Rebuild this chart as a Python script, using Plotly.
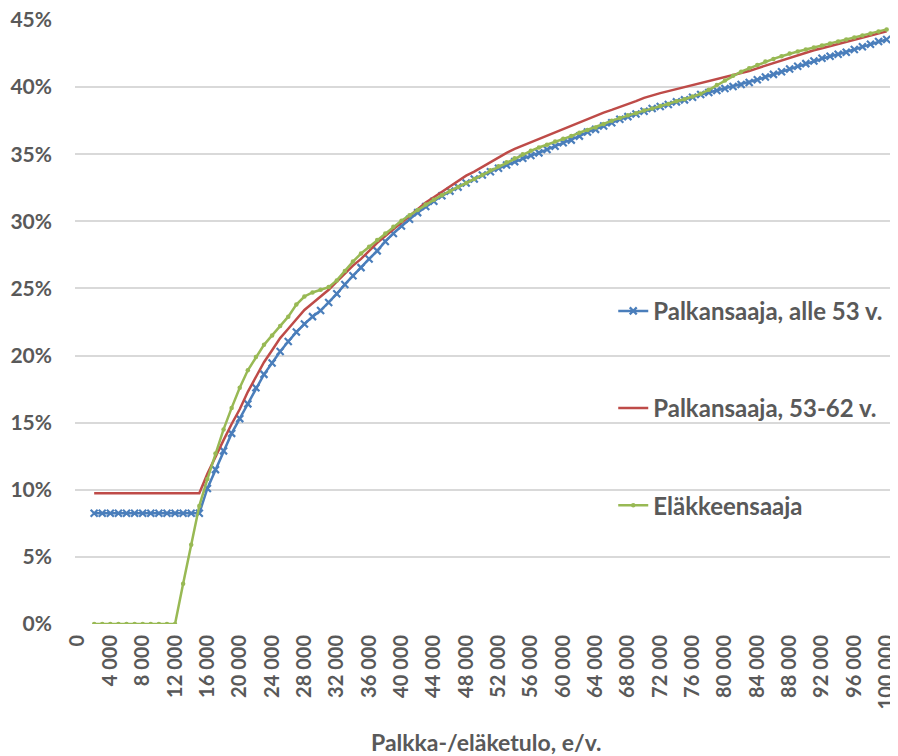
import plotly.graph_objects as go

# Income, euros per year
income = list(range(2000, 100001, 1000))

# Series values (%)
palkansaaja_alle53 = [
    8.25, 8.25, 8.25, 8.25, 8.25, 8.25, 8.25, 8.25, 8.25, 8.25, 8.25, 8.25, 8.25, 8.25,  # 2k-15k
    10.1, 11.5, 12.9, 14.2, 15.3, 16.4, 17.6, 18.6, 19.45, 20.3,                          # 16k-25k
    21.05, 21.75, 22.35, 22.9, 23.35, 23.95, 24.6, 25.3, 25.95, 26.55,                    # 26k-35k
    27.2, 27.8, 28.5, 29.1, 29.65, 30.15, 30.65, 31.1, 31.5, 31.9,                         # 36k-45k
    32.25, 32.55, 32.85, 33.15, 33.45, 33.7, 33.95, 34.2, 34.45, 34.7,                     # 46k-55k
    34.9, 35.1, 35.35, 35.6, 35.85, 36.05, 36.35, 36.65, 36.85, 37.1,                      # 56k-65k
    37.35, 37.6, 37.8, 38.0, 38.2, 38.4, 38.55, 38.7, 38.9, 39.05,                         # 66k-75k
    39.25, 39.45, 39.6, 39.75, 39.9, 40.05, 40.2, 40.35, 40.55, 40.75,                     # 76k-85k
    40.95, 41.15, 41.35, 41.55, 41.75, 41.95, 42.15, 42.3, 42.45, 42.6,                    # 86k-95k
    42.8, 43.0, 43.2, 43.4, 43.55,                                                         # 96k-100k
]

palkansaaja_53_62 = [
    9.75, 9.75, 9.75, 9.75, 9.75, 9.75, 9.75, 9.75, 9.75, 9.75, 9.75, 9.75, 9.75, 9.75,  # 2k-15k
    11.2, 12.5, 13.7, 14.9, 16.0, 17.3, 18.4, 19.5, 20.4, 21.3,                           # 16k-25k
    22.0, 22.7, 23.4, 23.9, 24.4, 24.9, 25.5, 26.1, 26.7, 27.2,                            # 26k-35k
    27.8, 28.4, 28.9, 29.4, 29.9, 30.4, 30.9, 31.4, 31.8, 32.2,                            # 36k-45k
    32.6, 33.0, 33.4, 33.7, 34.05, 34.45, 34.8, 35.1, 35.4, 35.65,                         # 46k-55k
    35.9, 36.15, 36.4, 36.6, 36.85, 37.1, 37.35, 37.6, 37.85, 38.1,                        # 56k-65k
    38.3, 38.5, 38.75, 38.95, 39.2, 39.4, 39.55, 39.7, 39.85, 40.0,                        # 66k-75k
    40.15, 40.3, 40.4, 40.55, 40.7, 40.85, 41.0, 41.2, 41.4, 41.6,                         # 76k-85k
    41.8, 42.0, 42.2, 42.4, 42.6, 42.75, 42.9, 43.05, 43.2, 43.4,                          # 86k-95k
    43.55, 43.7, 43.85, 44.0, 44.15,                                                       # 96k-100k
]

elakkeensaaja = [
    0, 0, 0, 0, 0, 0, 0, 0, 0, 0, 0,                                                       # 2k-12k
    3.0, 5.9, 8.8,                                                                          # 13k-15k
    10.8, 12.7, 14.5, 16.1, 17.6, 18.9, 19.9, 20.8, 21.5, 22.2,                            # 16k-25k
    22.9, 23.8, 24.4, 24.7, 24.9, 25.1, 25.6, 26.3, 27.0, 27.6,                            # 26k-35k
    28.1, 28.6, 29.1, 29.6, 30.05, 30.45, 30.85, 31.25, 31.6, 31.95,                       # 36k-45k
    32.25, 32.55, 32.85, 33.15, 33.45, 33.8, 34.1, 34.4, 34.7, 35.0,                       # 46k-55k
    35.25, 35.5, 35.7, 35.95, 36.15, 36.35, 36.6, 36.8, 37.0, 37.25,                       # 56k-65k
    37.5, 37.7, 37.9, 38.05, 38.25, 38.4, 38.6, 38.75, 38.95, 39.1,                        # 66k-75k
    39.3, 39.5, 39.8, 40.15, 40.5, 40.85, 41.15, 41.4, 41.65, 41.9,                        # 76k-85k
    42.1, 42.3, 42.5, 42.65, 42.8, 42.95, 43.1, 43.25, 43.4, 43.55,                        # 86k-95k
    43.7, 43.85, 44.0, 44.15, 44.3,                                                        # 96k-100k
]

series_names = ["Palkansaaja, alle 53 v.", "Palkansaaja, 53-62 v.", "Eläkkeensaaja"]
x_title = "Palkka-/eläketulo, e/v."

x_tick_vals = list(range(0, 100001, 4000))
x_tick_text = ["0" if v == 0 else f"{v // 1000} 000" for v in x_tick_vals]
y_tick_vals = [0, 5, 10, 15, 20, 25, 30, 35, 40, 45]
y_tick_text = [f"{v}%" for v in y_tick_vals]

FONT = "Lato"
TEXT = "#595959"

fig = go.Figure()
fig.add_trace(go.Scatter(
    x=income, y=palkansaaja_alle53, name=series_names[0], legendgroup="a",
    mode="lines+markers",
    line=dict(color="#4A7EBB", width=2.5),
    marker=dict(symbol="x-thin", size=7, line=dict(color="#4A7EBB", width=2.2), color="#4A7EBB"),
))
fig.add_trace(go.Scatter(
    x=income, y=palkansaaja_53_62, name=series_names[1], legendgroup="b",
    mode="lines",
    line=dict(color="#BE4B48", width=2.5),
))
fig.add_trace(go.Scatter(
    x=income, y=elakkeensaaja, name=series_names[2], legendgroup="c",
    mode="lines+markers",
    line=dict(color="#98B954", width=2.5),
    marker=dict(symbol="circle", size=4.5, color="#98B954"),
))

# The page body has an 8px margin, so the figure is sized/offset to fill the window
fig.update_layout(
    width=890, height=748,
    margin=dict(l=67, r=0, t=12, b=132, autoexpand=False),
    paper_bgcolor="white", plot_bgcolor="white",
    font=dict(family=FONT, color=TEXT, size=22),
    showlegend=True,
    legend=dict(
        x=0.654, y=0.555, xanchor="left", yanchor="top",
        font=dict(family=FONT, size=24, color=TEXT, weight="bold"),
        tracegroupgap=63, bgcolor="rgba(0,0,0,0)",
        itemwidth=30,
    ),
    xaxis=dict(
        range=[-370, 101400], automargin=False,
        tickmode="array", tickvals=x_tick_vals, ticktext=x_tick_text,
        tickangle=-90, showgrid=False, zeroline=False, showline=False,
        ticks="", ticklabelstandoff=6, ticklabeloverflow="allow",
        tickfont=dict(family=FONT, size=20, color=TEXT, weight="bold"),
    ),
    yaxis=dict(
        range=[0, 45], automargin=False,
        tickmode="array", tickvals=y_tick_vals, ticktext=y_tick_text,
        showgrid=True, gridcolor="#D9D9D9", gridwidth=1.5,
        zeroline=False, showline=False, ticks="",
        ticklabelstandoff=22, ticklabeloverflow="allow",
        tickfont=dict(family=FONT, size=21, color=TEXT, weight="bold"),
    ),
    annotations=[dict(
        text=x_title, xref="paper", yref="paper", x=0.5, y=-0.196,
        xanchor="center", yanchor="middle", showarrow=False,
        font=dict(family=FONT, size=23, color=TEXT, weight="bold"),
    )],
)

fig.write_html("out.html")
